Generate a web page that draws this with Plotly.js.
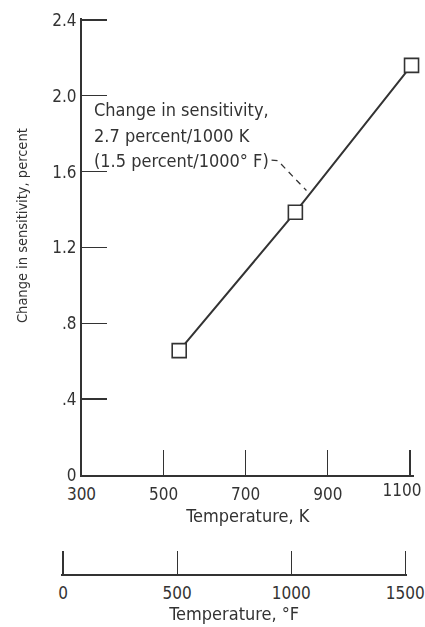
<!DOCTYPE html>
<html>
<head>
<meta charset="utf-8">
<script src="https://cdn.plot.ly/plotly-3.0.1.min.js"></script>
<style>html,body{margin:0;padding:0;background:#fff;}#chart{width:425px;height:627px;}</style>
</head>
<body>
<div id="chart"></div>
<script>
// ---- data ----
const tempK = [538, 821, 1104];
const sensitivity = [0.656, 1.386, 2.16];
const kTicks = [300, 500, 700, 900, 1100];
const kTickText = ['300', '500', '700', '900', '1100'];
const fTicks = [0, 500, 1000, 1500];
const fTickText = ['0', '500', '1000', '1500'];
const yTicks = [0, 0.4, 0.8, 1.2, 1.6, 2.0, 2.4];
const yTickText = ['0', '.4', '.8', '1.2', '1.6', '2.0', '2.4'];
const yTitle = 'Change in sensitivity, percent';
const noteLines = ['Change in sensitivity,', '2.7 percent/1000 K', '(1.5 percent/1000° F)'];
const noteY = [1.925, 1.793, 1.656];
const noteX = 325;
const leaderK = [763, 778, 848];
const leaderS = [1.661, 1.658, 1.50];

// ---- layout helpers ----
const ink = '#333333';
const fam = '"Liberation Sans Narrow", "DejaVu Sans Condensed", "Arial Narrow", sans-serif';
const W = 425, H = 627;
const M = {l: 61, r: 11, t: 18, b: 53};
const kRange = [300, 1110];
const kDomain = [0.0581, 1];
const toK = f => (f - 32) / 1.8 + 273.15;
const fracOfK = k => kDomain[0] + (k - kRange[0]) / (kRange[1] - kRange[0]) * (kDomain[1] - kDomain[0]);
const fRange = [fTicks[0] - 8, fTicks[fTicks.length - 1] + 8];
const fDomain = [Math.max(0, fracOfK(toK(fRange[0]))), fracOfK(toK(fRange[1]))];
const plotW = W - M.l - M.r, plotH = H - M.t - M.b;
const lastK = kTicks.length - 1;

const traces = [
  {
    x: tempK, y: sensitivity, xaxis: 'x', yaxis: 'y',
    mode: 'lines+markers', cliponaxis: false, hoverinfo: 'skip',
    line: {color: ink, width: 2},
    marker: {symbol: 'square', size: 14, color: '#ffffff', line: {color: ink, width: 1.6}}
  },
  {
    x: tempK.map(k => (k - 273.15) * 1.8 + 32), y: [0, 0, 0], xaxis: 'x2', yaxis: 'y2',
    mode: 'markers', opacity: 0, hoverinfo: 'skip', showlegend: false
  },
  {
    x: tempK, y: sensitivity, xaxis: 'x3', yaxis: 'y',
    mode: 'markers', opacity: 0, hoverinfo: 'skip', showlegend: false
  }
];

const axisCommon = {
  showline: true, linecolor: ink, linewidth: 1.5,
  ticks: 'inside', tickcolor: ink, tickwidth: 1.4,
  showgrid: false, zeroline: false, tickmode: 'array',
  ticklabeloverflow: 'allow',
  tickfont: {family: fam, size: 17, color: ink}
};

const layout = {
  width: W, height: H,
  margin: M,
  paper_bgcolor: '#ffffff', plot_bgcolor: '#ffffff',
  showlegend: false,
  font: {family: fam, color: ink, size: 17},
  xaxis: Object.assign({}, axisCommon, {
    domain: kDomain, range: kRange, anchor: 'y',
    tickvals: kTicks, ticktext: kTickText.map((t, i) => i === lastK ? '' : t),
    ticklen: 25, ticklabelstandoff: 3,
    title: {text: 'Temperature, K', font: {family: fam, size: 18, color: ink}, standoff: 6}
  }),
  // overlay axis carrying only the last K label, nudged left so it stays inside the page
  xaxis3: Object.assign({}, axisCommon, {
    overlaying: 'x', anchor: 'y', domain: kDomain, range: kRange,
    showline: false, ticks: '',
    tickvals: [kTicks[lastK]], ticktext: [kTickText[lastK]],
    ticklabelstandoff: 3, ticklabelshift: -8
  }),
  yaxis: Object.assign({}, axisCommon, {
    domain: [(574 - 475) / plotH, 1], range: [0, 2.41], anchor: 'x',
    tickvals: yTicks, ticktext: yTickText, ticklen: 25
  }),
  xaxis2: Object.assign({}, axisCommon, {
    domain: fDomain, range: fRange, anchor: 'y2',
    tickvals: fTicks, ticktext: fTickText, ticklen: 23, ticklabelstandoff: 3,
    title: {text: 'Temperature, °F', font: {family: fam, size: 18, color: ink}, standoff: 3}
  }),
  yaxis2: {domain: [0, 0.02], range: [0, 1], visible: false, anchor: 'x2'},
  annotations: noteLines.map((t, i) => ({
    text: t, x: noteX, y: noteY[i], xref: 'x', yref: 'y',
    xanchor: 'left', yanchor: 'middle', showarrow: false,
    font: {family: fam, size: 18, color: ink}
  })).concat([{
    text: yTitle, textangle: -90, showarrow: false,
    xref: 'paper', yref: 'paper',
    x: (22 - M.l) / plotW, y: (H - M.b - 226) / plotH,
    xanchor: 'center', yanchor: 'middle',
    font: {family: fam, size: 14.5, color: ink}
  }]),
  shapes: [{
    type: 'path', xref: 'x', yref: 'y',
    path: leaderK.map((k, i) => (i ? 'L' : 'M') + k + ',' + leaderS[i]).join(' '),
    line: {color: ink, width: 1.3, dash: '6px,5px'}
  }]
};

Plotly.newPlot('chart', traces, layout, {staticPlot: true, displayModeBar: false});
</script>
</body>
</html>
